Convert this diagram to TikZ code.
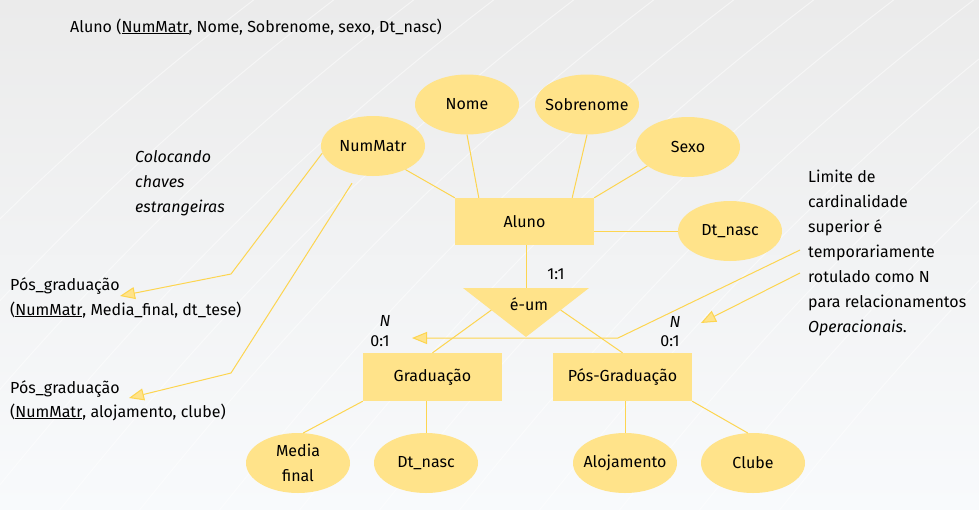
\documentclass[tikz,border=0pt]{standalone}
\usepackage{fontspec}
\setmainfont{Fira Sans}
\usetikzlibrary{arrows.meta, shapes.geometric, positioning, calc}
\definecolor{erfill}{HTML}{FFE38A}
\definecolor{erline}{HTML}{FDD550}
\definecolor{bgtop}{HTML}{EBEBEB}
\definecolor{bgbot}{HTML}{F8FAFC}
\newcommand{\erfont}{\fontsize{16}{25}\selectfont}

\begin{document}
\begin{tikzpicture}[x=1pt, y=-1pt,
  attr/.style={ellipse, fill=erfill, inner xsep=-12pt, inner ysep=-10pt,
               minimum width=104pt, minimum height=60pt, align=center, font=\erfont},
  ent/.style={rectangle, fill=erfill, inner sep=0pt, minimum width=139pt,
              minimum height=48pt, font=\erfont},
  link/.style={draw=erline, line width=1pt},
  arr/.style={link, -{Triangle[length=15pt, width=12pt, fill=erfill]}},
  txt/.style={anchor=base west, inner sep=0pt, font=\erfont},
  lbl/.style={anchor=base, inner sep=0pt, font=\erfont}
]
  % fundo
  \useasboundingbox (0,0) rectangle (979,509);
  \fill[top color=bgtop, bottom color=bgbot] (0,0) rectangle (979,509);
  \begin{scope}
    \clip (0,0) rectangle (979,509);
    \foreach \i in {0,...,13}
      \draw[white, line width=1pt, opacity=0.5]
        (\i*80-300,560) .. controls (\i*80-120,330) and (\i*80+40,160) .. (\i*80+280,-20);
  \end{scope}

  % entidades
  \node[ent, minimum height=47pt] (aluno) at (524.5,221.5) {Aluno};
  \node[ent] (grad) at (432.5,377) {Graduação};
  \node[ent] (posg) at (622.5,377) {Pós-Graduação};

  % atributos
  \node[attr] (numm)  at (373,146)   {NumMatr};
  \node[attr] (nome)  at (467,104.5) {Nome};
  \node[attr] (sobr)  at (587,104.5) {Sobrenome};
  \node[attr] (sexo)  at (688,147)   {Sexo};
  \node[attr] (dtn)   at (730,231)   {Dt\_nasc};
  \node[attr] (media) at (298,463)   {Media\\final};
  \node[attr] (dtng)  at (426,463)   {Dt\_nasc};
  \node[attr] (aloj)  at (625,463)   {Alojamento};
  \node[attr] (clube) at (753,463)   {Clube};

  % é-um
  \coordinate (isa-nw) at (463,288);
  \coordinate (isa-ne) at (589,288);
  \coordinate (isa-s)  at (526,337);
  \fill[erfill] (isa-nw) -- (isa-ne) -- (isa-s) -- cycle;
  \node[lbl, anchor=center] (isa) at (529,304) {é-um};

  \draw[link] (numm.-36) -- (aluno.north west);
  \draw[link] (nome.south) -- ($(aluno.north west)+(24,0)$);
  \draw[link] (sobr.south) -- ($(aluno.north east)+(-22,0)$);
  \draw[link] (sexo.-155) -- (aluno.north east);
  \draw[link] ($(aluno.east |- dtn.west)+(0,0.5)$) -- ($(dtn.west)+(0,0.5)$);
  \draw[link] (aluno.south -| isa-s) -- (isa-s |- isa-nw);
  \draw[link] ($(isa-nw)!0.45!(isa-s)$) -- (grad.north);
  \draw[link] ($(isa-ne)!0.45!(isa-s)$) -- (posg.north);
  \draw[link] (grad.south west) -- (media.80);
  \draw[link] (dtng.north) -- (dtng.north |- grad.south);
  \draw[link] (aloj.north) -- (aloj.north |- posg.south);
  \draw[link] (posg.south east) -- (clube.100);

  % cardinalidades
  \node[lbl] (c11) at (556,279) {1:1};
  \node[lbl, font=\erfont\itshape] (nl) at (385,326) {N};
  \node[lbl] (zl) at (380,346) {0:1};
  \node[lbl, font=\erfont\itshape] (nr) at (675,327) {N};
  \node[lbl] (zr) at (670,346) {0:1};

  % textos
  \node[txt] (title) at (70,32) {Aluno (\underline{NumMatr}, Nome, Sobrenome, sexo, Dt\_nasc)};
  \foreach \t [count=\k] in {Colocando, chaves, estrangeiras}
    \node[txt, font=\erfont\itshape] (col\k) at (135,137+25*\k) {\t};
  \node[txt] (pg1)  at (10,290) {Pós\_graduação};
  \node[txt] (pg1b) at (10,315) {(\underline{NumMatr}, Media\_final, dt\_tese)};
  \node[txt] (pg2)  at (10,393) {Pós\_graduação};
  \node[txt] (pg2b) at (10,417) {(\underline{NumMatr}, alojamento, clube)};
  \foreach \t [count=\k] in {Limite de, cardinalidade, superior é, temporariamente,
      rotulado como N, para relacionamentos, \textit{Operacionais}.}
    \node[txt] (lim\k) at (808,157+25*\k) {\t};

  % setas
  \coordinate (a1s) at (800,250);
  \coordinate (a1b) at (618,338);
  \coordinate (a1e) at (412,338);
  \coordinate (a2s) at (800,273);
  \coordinate (a2e) at (701,323);
  \coordinate (b1b) at (231,274);
  \coordinate (b1e) at (120,296);
  \coordinate (b2b) at (231,373);
  \coordinate (b2e) at (129,398);
  \draw[arr] (a1s) -- (a1b) -- (a1e);
  \draw[arr] (a2s) -- (a2e);
  \draw[arr] (numm.188) -- (b1b) -- (b1e);
  \draw[arr] ($(numm.south)+(-21,7)$) -- (b2b) -- (b2e);
\end{tikzpicture}
\end{document}
